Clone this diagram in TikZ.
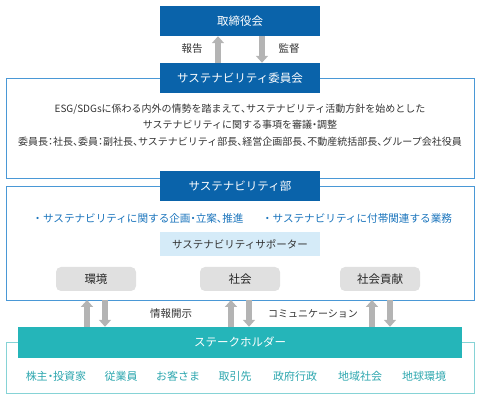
\documentclass[tikz,border=0pt]{standalone}
\usepackage{fontspec}
\setmainfont{Noto Sans CJK JP}
\usetikzlibrary{arrows.meta}
\newcommand\pcx[1]{{\addfontfeature{RawFeature=+palt}#1}}
\definecolor{dblue}{HTML}{0A63AA}
\definecolor{lblue}{HTML}{4A98D6}
\definecolor{pblue}{HTML}{D5EBF8}
\definecolor{tblue}{HTML}{1A74BC}
\definecolor{gfill}{HTML}{E0E0E0}
\definecolor{garrow}{HTML}{B4B4B4}
\definecolor{teal}{HTML}{25B5B9}
\definecolor{lteal}{HTML}{86D3D6}
\definecolor{tteal}{HTML}{2CA6AE}
\definecolor{txt}{HTML}{333333}
\tikzset{
  x=1pt,y=-1pt,
  titlebox/.style={fill=dblue,text=white,minimum width=160pt,minimum height=30pt,inner sep=0pt,font=\fontsize{11.5}{12}\selectfont},
  suppbox/.style={fill=pblue,text=txt,minimum width=160pt,minimum height=24pt,inner sep=0pt,font=\fontsize{10.5}{10}\selectfont},
  graybox/.style={fill=gfill,text=black!85,rounded corners=5pt,minimum width=80pt,minimum height=24pt,inner sep=0pt,font=\fontsize{11.5}{10}\selectfont},
  body/.style={text=txt,font=\fontsize{10}{10}\selectfont,inner sep=0pt},
  bullet/.style={text=tblue,font=\fontsize{10.6}{10}\selectfont,inner sep=0pt},
  stake/.style={text=tteal,font=\fontsize{11}{10}\selectfont,inner sep=0pt},
  garr/.style={draw=garrow,line width=5.5pt,-{Triangle[width=12pt,length=7pt]}},
}
\begin{document}
\begin{tikzpicture}
\useasboundingbox (0,0) rectangle (480,398);
% outline frames
\draw[lblue,line width=0.8pt] (6,78) rectangle (474,178);
\draw[lblue,line width=0.8pt] (6,186) rectangle (474,300);
\draw[lteal,line width=0.8pt] (6,342) rectangle (474,393);
% top boxes
\node[titlebox] (board) at (240,21) {取締役会};
\node[titlebox] (comm) at (240,78) {サステナビリティ委員会};
\draw[garr] (comm.north -| 218,0) -- (board.south -| 218,0);
\draw[garr] (board.south -| 262,0) -- (comm.north -| 262,0);
\node[body,font=\fontsize{10.5}{10}\selectfont] (rep) at (192,49) {報告};
\node[body,font=\fontsize{10.5}{10}\selectfont] (sup) at (289,49) {監督};
\node[body] (l1) at (240,109) {ESG/SDGsに係わる内外の情勢を踏まえて\pcx{、}サステナビリティ活動方針を始めとした};
\node[body] (l2) at (240,125) {サステナビリティに関する事項を審議\pcx{・}調整};
\node[body] (l3) at (240,142) {委員長\pcx{：}社長\pcx{、}委員\pcx{：}副社長\pcx{、}サステナビリティ部長\pcx{、}経営企画部長\pcx{、}不動産統括部長\pcx{、}グループ会社役員};
% department
\node[titlebox] (dept) at (240,186) {サステナビリティ部};
\node[bullet] (b1) at (138,218) {・サステナビリティに関する企画\pcx{・}立案\pcx{、}推進};
\node[bullet] (b2) at (357,218) {・サステナビリティに付帯関連する業務};
\node[suppbox] (supp) at (240,244) {サステナビリティサポーター};
\node[graybox] (env) at (96,279) {環境};
\node[graybox] (soc) at (240,279) {社会};
\node[graybox] (con) at (380,279) {社会貢献};
% stakeholder
\node[fill=teal,text=white,minimum width=444pt,minimum height=31pt,inner sep=0pt,font=\fontsize{11.5}{12}\selectfont] (sh) at (240,342.5) {ステークホルダー};
\coordinate (dtop) at (0,300);
\foreach \u/\d in {87/105,231/249,372/390}{
  \draw[garr] (sh.north -| \u,0) -- (dtop -| \u,0);
  \draw[garr] (dtop -| \d,0) -- (sh.north -| \d,0);
}
\node[body,font=\fontsize{10.5}{10}\selectfont] (info) at (171,314) {情報開示};
\node[body] (commu) at (313,314) {コミュニケーション};
\node[stake] (s1) at (56,376) {株主\pcx{・}投資家};
\node[stake] (s2) at (121,376) {従業員};
\node[stake] (s3) at (178,376) {お客さま};
\node[stake] (s4) at (235,376) {取引先};
\node[stake] (s5) at (295,376) {政府行政};
\node[stake] (s6) at (360,376) {地域社会};
\node[stake] (s7) at (424,376) {地球環境};
\end{tikzpicture}
\end{document}
